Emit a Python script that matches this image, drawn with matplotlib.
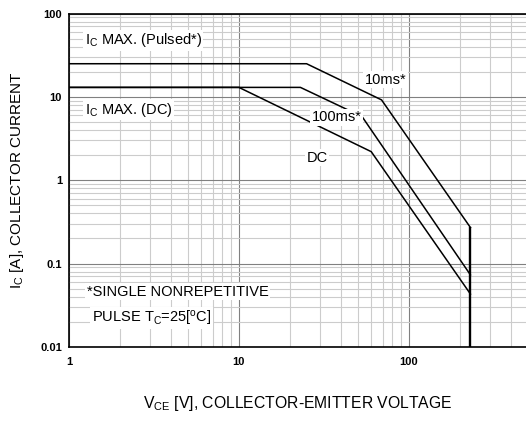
import numpy as np
import matplotlib
matplotlib.use("Agg")
import matplotlib.pyplot as plt
from matplotlib.ticker import LogLocator, FixedLocator, FixedFormatter, NullFormatter

plt.rcParams['font.family'] = ['Liberation Sans', 'DejaVu Sans']
plt.rcParams['mathtext.fontset'] = 'custom'
plt.rcParams['mathtext.rm'] = 'Liberation Sans'
plt.rcParams['mathtext.it'] = 'Liberation Sans'

# safe operating area curves (V_CE [V], I_C [A])
v_10ms = [1, 25, 69, 230]
i_10ms = [25, 25, 9.2, 0.27]
v_100ms = [1, 23, 53, 230]
i_100ms = [13, 13, 5.8, 0.073]
v_dc = [1, 10, 60, 230]
i_dc = [13, 13, 2.2, 0.043]
v_limit = [230, 230]
i_limit = [0.01, 0.27]

x_ticks = [1, 10, 100]
x_labels = ['1', '10', '100']
y_ticks = [0.01, 0.1, 1, 10, 100]
y_labels = ['0.01', '0.1', '1', '10', '100']

fig = plt.figure(figsize=(5.26, 4.24), dpi=100)
ax = fig.add_axes([0.131, 0.182, 0.869, 0.786])

ax.plot(v_10ms, i_10ms, color='black', lw=1.1)
ax.plot(v_100ms, i_100ms, color='black', lw=1.1)
ax.plot(v_dc, i_dc, color='black', lw=1.1)
ax.plot(v_limit, i_limit, color='black', lw=1.7)

ax.set_xscale('log')
ax.set_yscale('log')
ax.set_xlim(1, 488)
ax.set_ylim(0.01, 100)

ax.xaxis.set_major_locator(FixedLocator(x_ticks))
ax.xaxis.set_major_formatter(FixedFormatter(x_labels))
ax.yaxis.set_major_locator(FixedLocator(y_ticks))
ax.yaxis.set_major_formatter(FixedFormatter(y_labels))
ax.xaxis.set_minor_locator(LogLocator(base=10, subs=np.arange(2, 10)))
ax.yaxis.set_minor_locator(LogLocator(base=10, subs=np.arange(2, 10)))
ax.xaxis.set_minor_formatter(NullFormatter())
ax.yaxis.set_minor_formatter(NullFormatter())

ax.grid(which='major', color='#808080', lw=0.8)
ax.grid(which='minor', color='#cccccc', lw=0.8)
ax.set_axisbelow(True)
ax.tick_params(which='both', length=0)
ax.tick_params(axis='x', pad=7, labelsize=8)
ax.tick_params(axis='y', pad=5, labelsize=8)
for lab in ax.get_xticklabels() + ax.get_yticklabels():
    lab.set_fontweight('bold')

ax.spines['right'].set_visible(False)
for s in ['left', 'bottom', 'top']:
    ax.spines[s].set_linewidth(1.2)

box = dict(facecolor='white', edgecolor='none', pad=1.0)
fs = 10.5
ax.text(1.24, 48, r'I$_\mathrm{C}$ MAX. (Pulsed*)', fontsize=fs, va='center', bbox=box)
ax.text(1.24, 7.0, r'I$_\mathrm{C}$ MAX. (DC)', fontsize=fs, va='center', bbox=box)
ax.text(55, 16, '10ms*', fontsize=fs, va='center', bbox=box)
ax.text(26.7, 5.7, '100ms*', fontsize=fs, va='center', bbox=box)
ax.text(25, 1.85, 'DC', fontsize=fs, va='center', bbox=box)
ax.text(1.27, 0.046, '*SINGLE NONREPETITIVE', fontsize=fs, va='center', bbox=box)
ax.text(1.36, 0.022, r'PULSE T$_\mathrm{C}$=25[$^\mathrm{o}$C]', fontsize=fs, va='center', bbox=box)

ax.set_xlabel(r'V$_\mathrm{CE}$ [V], COLLECTOR-EMITTER VOLTAGE', fontsize=11.3, labelpad=20)
ax.set_ylabel(r'I$_\mathrm{C}$ [A], COLLECTOR CURRENT', fontsize=11, labelpad=10)

fig.savefig('out.png', dpi=100)
